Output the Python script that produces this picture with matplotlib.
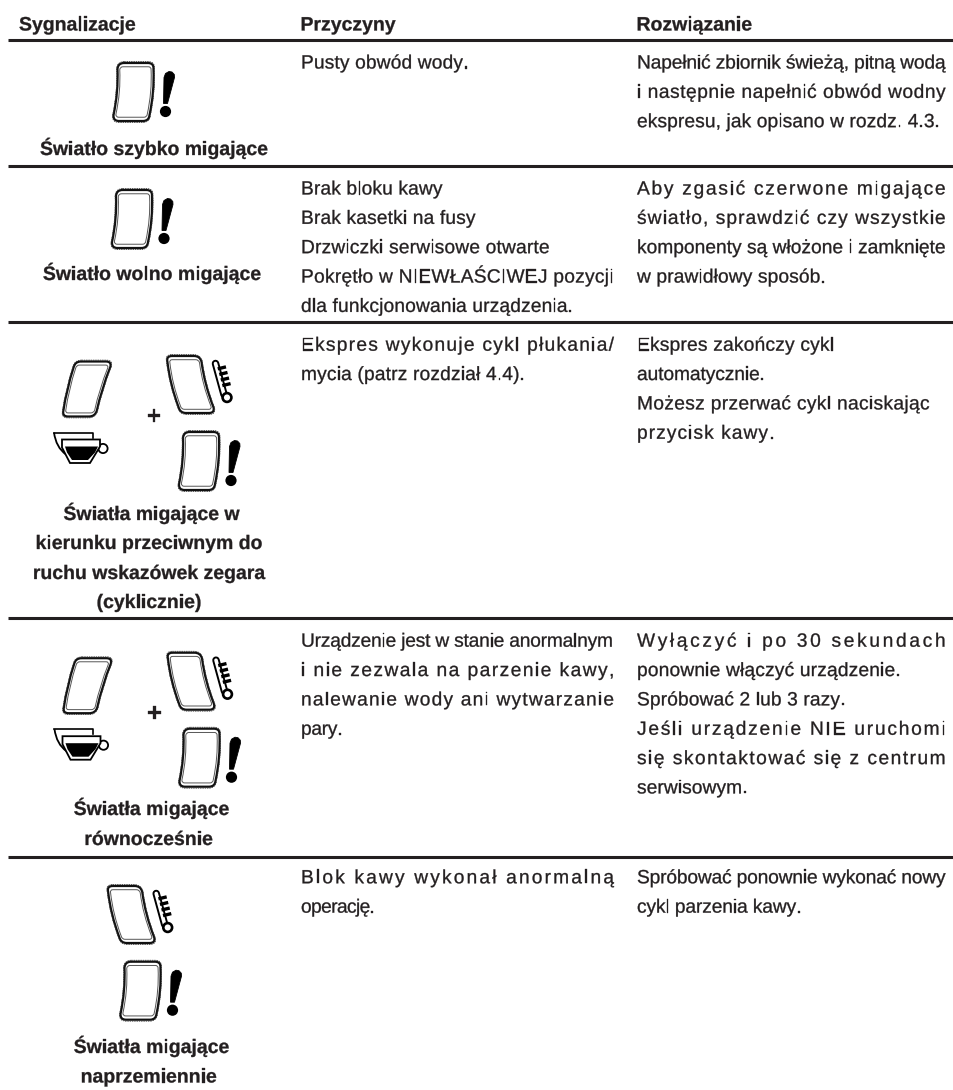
import matplotlib
matplotlib.use("Agg")
import matplotlib.pyplot as plt
from matplotlib.text import Text
from matplotlib.textpath import TextPath, text_to_path
from matplotlib.path import Path
from matplotlib.patches import PathPatch, Circle, Polygon
from matplotlib.transforms import Affine2D, Bbox
from matplotlib.colors import to_rgb
import numpy as np

plt.rcParams['font.family'] = ['Liberation Sans', 'DejaVu Sans']

INK = '#231f20'
HEADERS = ['Sygnalizacje', 'Przyczyny', 'Rozwiązanie']
LABELS = [['Światło szybko migające'],
          ['Światło wolno migające'],
          ['Światła migające w', 'kierunku przeciwnym do', 'ruchu wskazówek zegara', '(cyklicznie)'],
          ['Światła migające', 'równocześnie'],
          ['Światła migające', 'naprzemiennie']]
CAUSES = [['Pusty obwód wody.'],
          ['Brak bloku kawy', 'Brak kasetki na fusy', 'Drzwiczki serwisowe otwarte',
           'Pokrętło w NIEWŁAŚCIWEJ pozycji', 'dla funkcjonowania urządzenia.'],
          ['Ekspres wykonuje cykl płukania/', 'mycia (patrz rozdział 4.4).'],
          ['Urządzenie jest w stanie anormalnym', 'i nie zezwala na parzenie kawy,',
           'nalewanie wody ani wytwarzanie', 'pary.'],
          ['Blok kawy wykonał anormalną', 'operację.']]
REMEDIES = [['Napełnić zbiornik świeżą, pitną wodą', 'i następnie napełnić obwód wodny',
             'ekspresu, jak opisano w rozdz. 4.3.'],
            ['Aby zgasić czerwone migające', 'światło, sprawdzić czy wszystkie',
             'komponenty są włożone i zamknięte', 'w prawidłowy sposób.'],
            ['Ekspres zakończy cykl', 'automatycznie.', 'Możesz przerwać cykl naciskając',
             'przycisk kawy.'],
            ['Wyłączyć i po 30 sekundach', 'ponownie włączyć urządzenie.', 'Spróbować 2 lub 3 razy.',
             'Jeśli urządzenie NIE uruchomi', 'się skontaktować się z centrum', 'serwisowym.'],
            ['Spróbować ponownie wykonać nowy', 'cykl parzenia kawy.']]

# layout (pixels)
RULES_Y = [40, 165.7, 322, 618.3, 856.7]
ROW_TEXT_Y = [68.5, 194.5, 350.7, 646.7, 883.3]
LABEL_Y = [[155], [280], [520, 549, 579, 608], [815, 845], [1053, 1082.5]]
LABEL_CX = [[154], [152], [151.5, 149, 149, 149], [151.5, 148.6], [151.5, 148.7]]
CAUSE_RIGHT = [[467], [442.5, 475.5, 549.6, 613.5, 573], [614, 525], [613, 613, 614, 341], [614, 375]]
REMEDY_RIGHT = [[945.6, 945.6, 940], [945.6, 945.6, 945.6, 825.8], [834, 765, 929.6, 773],
                [945.6, 900.7, 844, 945.6, 945.6, 747.5], [945.6, 800]]
PITCH = 29.35


class SpacedText(Text):
    """One text artist whose letters are tracked so the line ends at a given right edge."""
    def __init__(self, x, y, s, right=None, **kw):
        super().__init__(x, y, s, **kw)
        self.right = right

    def draw(self, renderer):
        s, prop = self.get_text(), self.get_fontproperties()
        k = self.figure.dpi / 72.0
        px = prop.get_size_in_points() * k

        def width(t):
            return text_to_path.get_text_width_height_descent(t, prop, False)[0] * k

        tr = self.get_transform()
        x0, y0 = tr.transform(self.get_position())
        bar = width('|')
        adv = [0.0] + [width(s[:i] + '|') - bar for i in range(1, len(s))]
        total = width(s)
        extra = 0.0
        if self.right is not None:
            x1 = tr.transform((self.right, self.get_position()[1]))[0]
            extra = (x1 - x0 - total) / max(len(s) - 1, 1)
        if self.get_ha() == 'center':
            x0 -= total / 2
        rgb = to_rgb(self.get_color())
        gc = renderer.new_gc()
        gc.set_linewidth(0.22)
        gc.set_foreground(rgb)
        gc.set_antialiased(True)
        for i, ch in enumerate(s):
            if ch == ' ':
                continue
            p = TextPath((0, 0), ch, size=px, prop=prop)
            renderer.draw_path(gc, p, Affine2D().translate(x0 + adv[i] + extra * i, y0), rgb)
        gc.restore()

    def get_window_extent(self, renderer=None, dpi=None):
        bb = super().get_window_extent(renderer, dpi)
        if self.right is None:
            return bb
        x1 = self.get_transform().transform((self.right, 0))[0]
        return Bbox.from_extents(bb.x0, bb.y0, x1, bb.y1)


fig = plt.figure(figsize=(9.54, 10.9), dpi=100, facecolor='white')
ax = fig.add_axes([0, 0, 1, 1])
ax.set_xlim(0, 954)
ax.set_ylim(1090, 0)
ax.axis('off')

BODY = 13.8
BOLD = 14.0


def put(x, y, s, right=None, size=BODY, weight='normal', ha='left'):
    t = SpacedText(x, y, s, right=right, fontsize=size, fontweight=weight, color=INK,
                   ha=ha, va='baseline', transform=ax.transData)
    ax.add_artist(t)


def rocker(corners, bow=0.0):
    """Rounded rocker outline from TL, TR, BR, BL corners."""
    c = np.array(corners, float)
    ctr = c.mean(axis=0)

    def outline(pts, r, b):
        verts, codes = [], []
        n = len(pts)
        for i in range(n):
            p, q, nxt = pts[i], pts[(i + 1) % n], pts[(i + 2) % n]
            a = p + (q - p) * r / np.linalg.norm(q - p)
            e = q - (q - p) * r / np.linalg.norm(q - p)
            e2 = q + (nxt - q) * r / np.linalg.norm(nxt - q)
            if i == 0:
                verts.append(a); codes.append(Path.MOVETO)
            if i % 2 == 1 and b:
                m = (a + e) / 2 + np.array([2 * b, 0.0])
                verts += [m, e]; codes += [Path.CURVE3, Path.CURVE3]
            else:
                verts.append(e); codes.append(Path.LINETO)
            verts += [q, e2]; codes += [Path.CURVE3, Path.CURVE3]
        return Path(verts, codes)

    ax.add_patch(PathPatch(outline(c, 6, bow), fc='white', ec='#111111', lw=1.6, zorder=3))
    ax.add_patch(PathPatch(outline(ctr + (c - ctr) * 1.05, 7, bow), fc='none', ec='#333333', lw=0.55,
                           ls=(0, (2, 1)), zorder=3))
    ax.add_patch(PathPatch(outline(ctr + (c - ctr) * 0.87, 3, bow), fc='none', ec='#555555', lw=0.7, zorder=3))


def bang(x, y):
    """Exclamation mark; x,y = centre of the dot."""
    ax.add_patch(Polygon([[x - 2, y - 8], [x + 2, y - 8], [x + 9, y - 34],
                          [x + 8.8, y - 37], [x + 6.5, y - 39.5], [x + 3.5, y - 40],
                          [x + 0, y - 38], [x - 1.5, y - 34]],
                         closed=True, fc='black', ec='black', lw=0.6, zorder=3))
    ax.add_patch(Circle((x, y), 5.6, fc='black', ec='none', zorder=3))


def thermo(x, y):
    """Thermometer; x,y = centre of the bulb."""
    ax.plot([x - 3, x - 11.5], [y - 3, y - 34], color='black', lw=5.4, solid_capstyle='round', zorder=3)
    ax.plot([x - 3, x - 11.5], [y - 3, y - 34], color='white', lw=2.6, solid_capstyle='round', zorder=3)
    for f in (0.3, 0.48, 0.66, 0.84):
        xa, ya = x - 3 - 8.5 * f, y - 3 - 31 * f
        ax.plot([xa + 2.5, xa + 7.5], [ya, ya - 1.2], color='black', lw=2.4, zorder=3)
    ax.add_patch(Circle((x, y), 4.4, fc='white', ec='black', lw=1.9, zorder=4))


def cup(x, y):
    """Coffee cup; x,y = top left corner of the back rim."""
    ax.plot([x, x + 39, x + 39], [y, y, y + 5], color='black', lw=1.2, zorder=3)
    ax.add_patch(PathPatch(Path([(x, y), (x + 2, y + 15), (x + 12, y + 22)],
                                [Path.MOVETO, Path.CURVE3, Path.CURVE3]),
                           fc='none', ec='black', lw=1.3, zorder=3))
    ax.add_patch(Polygon([[x + 8, y + 7], [x + 46, y + 7], [x + 46, y + 14],
                          [x + 36, y + 30.5], [x + 16, y + 30.5], [x + 8, y + 15]],
                         closed=True, fc='white', ec='black', lw=1.3, zorder=4))
    ax.add_patch(Polygon([[x + 11, y + 14], [x + 44, y + 14], [x + 41, y + 20],
                          [x + 34, y + 27.5], [x + 18, y + 27.5], [x + 13, y + 20]],
                         closed=True, fc='black', ec='none', zorder=5))
    ax.add_patch(Circle((x + 49, y + 16), 4.6, fc='none', ec='black', lw=1.3, zorder=3))


def rocker_bang(dx, dy):
    rocker([(dx, dy), (dx + 36, dy), (dx + 31, dy + 58), (dx - 5, dy + 58)], bow=1.5)
    bang(dx + 47.5, dy + 48.5)


def rocker_thermo(dx, dy):
    rocker([(dx, dy), (dx + 34, dy), (dx + 49, dy + 57), (dx + 14, dy + 57)], bow=-1.5)
    thermo(dx + 61, dy + 41.5)


def rocker_cup(dx, dy):
    rocker([(dx, dy), (dx + 37, dy), (dx + 20, dy + 55), (dx - 13, dy + 55)], bow=-1)
    cup(dx - 21, dy + 71)


def group(dx, dy):
    rocker_cup(75 + dx, 361.5 + dy)
    rocker_thermo(166 + dx, 356 + dy)
    rocker_bang(183.5 + dx, 432 + dy)
    put(154 + dx, 424 + dy, '+', size=18, weight='bold', ha='center')


# --- drawing ---
for y in RULES_Y:
    ax.plot([8, 954], [y, y], color=INK, lw=2.2, solid_capstyle='butt', zorder=2)

for x, h in zip([19, 300.5, 636.5], HEADERS):
    put(x, 30.5, h, size=BOLD, weight='bold')

for i in range(5):
    for y, cx, s in zip(LABEL_Y[i], LABEL_CX[i], LABELS[i]):
        put(cx, y, s, size=BOLD, weight='bold', ha='center')
    for j, s in enumerate(CAUSES[i]):
        put(301, ROW_TEXT_Y[i] + j * PITCH, s, right=CAUSE_RIGHT[i][j])
    for j, s in enumerate(REMEDIES[i]):
        put(637, ROW_TEXT_Y[i] + j * PITCH, s, right=REMEDY_RIGHT[i][j])

rocker_bang(118, 63)
rocker_bang(116.5, 190)
group(0, 0)
group(0.5, 296.7)
rocker_thermo(106.7, 886)
rocker_bang(125, 961.7)

fig.savefig('out.png', dpi=100, facecolor='white')
